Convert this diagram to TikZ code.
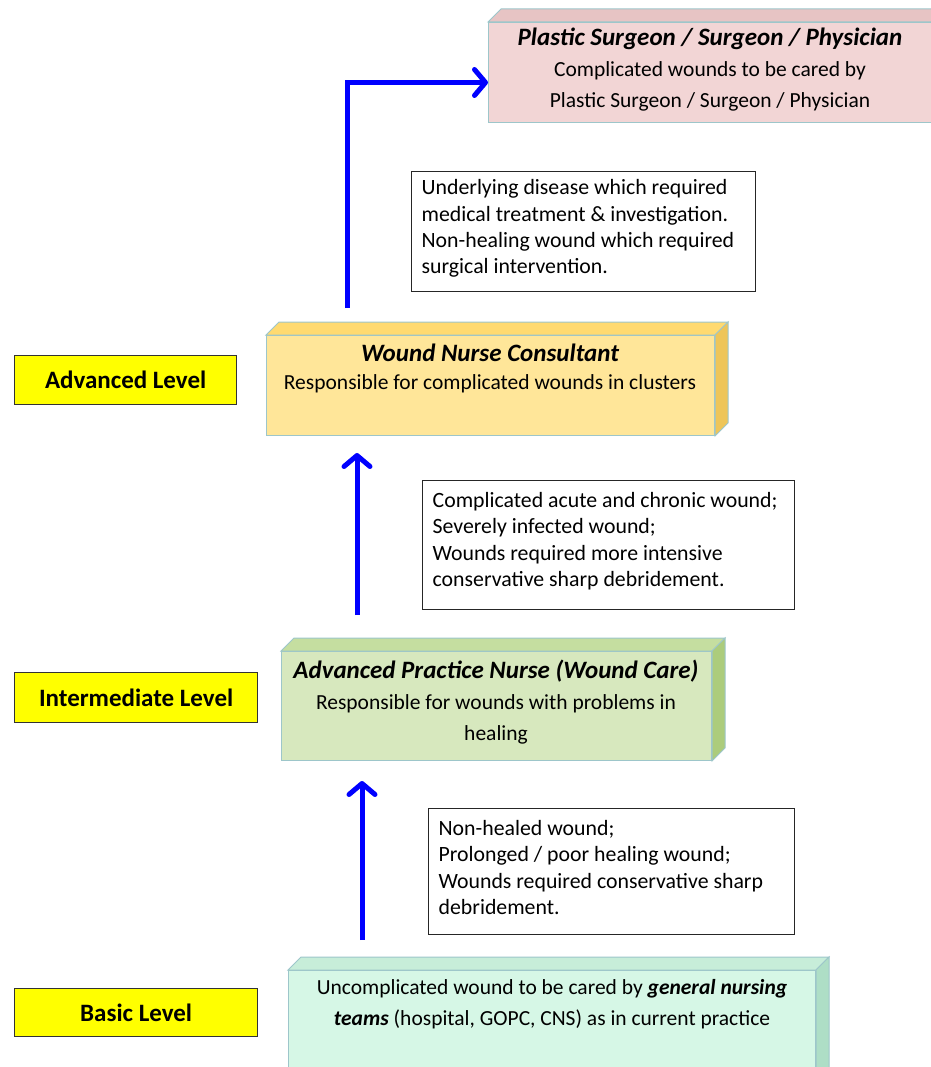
\documentclass[tikz,border=0pt]{standalone}
\usepackage{fontspec}
\setmainfont{Carlito}
\usetikzlibrary{calc}
\usetikzlibrary{arrows.meta,positioning}

\definecolor{boxedge}{RGB}{157,198,202}
\definecolor{flowblue}{RGB}{0,0,255}
\definecolor{lvlyellow}{RGB}{255,255,0}
\definecolor{pinkfront}{RGB}{242,213,213}
\definecolor{pinktop}{RGB}{231,196,196}
\definecolor{pinkside}{RGB}{220,180,180}
\definecolor{goldfront}{RGB}{255,230,153}
\definecolor{goldtop}{RGB}{255,218,112}
\definecolor{goldside}{RGB}{238,197,88}
\definecolor{leaffront}{RGB}{215,232,190}
\definecolor{leaftop}{RGB}{197,222,160}
\definecolor{leafside}{RGB}{172,204,124}
\definecolor{mintfront}{RGB}{214,247,230}
\definecolor{minttop}{RGB}{199,237,217}
\definecolor{mintside}{RGB}{174,222,198}

\newcommand{\boxtitle}[1]{{\bfseries\itshape\fontsize{25}{31}\selectfont #1}}

\tikzset{
    front/.style={draw=boxedge, line width=1pt, anchor=north west, inner sep=0pt},
    face/.style={draw=boxedge, line width=1pt},
    boxtext/.style={align=center, font=\fontsize{21.5}{31}\selectfont},
    criteria/.style={draw=black!85, line width=1.3pt, anchor=north west, align=flush left,
        inner xsep=10pt, font=\fontsize{21.8}{26.3}\selectfont},
    level/.style={draw=black!80, fill=lvlyellow, line width=1.3pt, anchor=north west,
        font=\bfseries\fontsize{25}{28}\selectfont},
    flow/.style={draw=flowblue, line width=5pt,
        -{Straight Barb[length=11pt,width=26pt,round]}},
}

\begin{document}
\begin{tikzpicture}[x=1pt, y=-1pt]
    \useasboundingbox (0,0) rectangle (930,1067);
    % boxes
    \node[front, fill=pinkfront, minimum width=446, minimum height=100] (surg) at (488,22) {};
    \node[front, fill=goldfront, minimum width=448, minimum height=100] (wnc) at (266,335) {};
    \node[front, fill=leaffront, minimum width=430, minimum height=109] (apn) at (281,651) {};
    \node[front, fill=mintfront, minimum width=527, minimum height=120] (basic) at (288,970) {};
    \foreach \b/\ct/\cs in {surg/pinktop/pinkside, wnc/goldtop/goldside,
                            apn/leaftop/leafside, basic/minttop/mintside} {
        \filldraw[face, fill=\ct] (\b.north west) -- ++(13,-13)
            -- ($(\b.north east)+(13,-13)$) -- (\b.north east) -- cycle;
        \filldraw[face, fill=\cs] (\b.north east) -- ++(13,-13)
            -- ($(\b.south east)+(13,-13)$) -- (\b.south east) -- cycle;
    }
    \node[boxtext] (surgtext) at (710,70) {\boxtitle{Plastic Surgeon / Surgeon / Physician}\\
        Complicated wounds to be cared by\\Plastic Surgeon / Surgeon / Physician};
    \node[boxtext, font=\fontsize{21.5}{28}\selectfont] (wnctext) at (490,368)
        {\boxtitle{Wound Nurse Consultant}\\Responsible for complicated wounds in clusters};
    \node[boxtext] (apntext) at (496,702) {\boxtitle{Advanced Practice Nurse (Wound Care)}\\
        Responsible for wounds with problems in\\healing};
    \node[boxtext] (basictext) at (552,1004) {Uncomplicated wound to be cared by \textbf{\textit{general nursing}}\\
        \textbf{\textit{teams}} (hospital, GOPC, CNS) as in current practice};

    % levels
    \node[level, minimum width=222, minimum height=49] (advlevel) at (14,355) {Advanced Level};
    \node[level, minimum width=243, minimum height=50] (intlevel) at (14,672) {Intermediate Level};
    \node[level, minimum width=243, minimum height=48] (baslevel) at (14,988) {Basic Level};

    % referral criteria
    \node[criteria, text width=324, minimum height=120] (crit1) at (411,171)
        {Underlying disease which required\\medical treatment \& investigation.\\
        Non-healing wound which required\\surgical intervention.\vspace{6pt}};
    \node[criteria, text width=352, minimum height=129] (crit2) at (422,480)
        {Complicated acute and chronic wound;\\Severely infected wound;\\
        Wounds required more intensive\\conservative sharp debridement.\vspace{8pt}};
    \node[criteria, text width=346, minimum height=126] (crit3) at (428,808)
        {Non-healed wound;\\Prolonged / poor healing wound;\\
        Wounds required conservative sharp\\debridement.\vspace{8pt}};

    % referral arrows
    \draw[flow] ($(basic.north west)+(74,-30)$) -- ($(apn.south west)+(81,20)$);
    \draw[flow] ($(apn.north west)+(76,-36)$) -- ($(wnc.south west)+(91,17)$);
    \draw[flow] ($(wnc.north west)+(81,-27)$) |- ($(surg.west)+(0,10)$);
\end{tikzpicture}
\end{document}
